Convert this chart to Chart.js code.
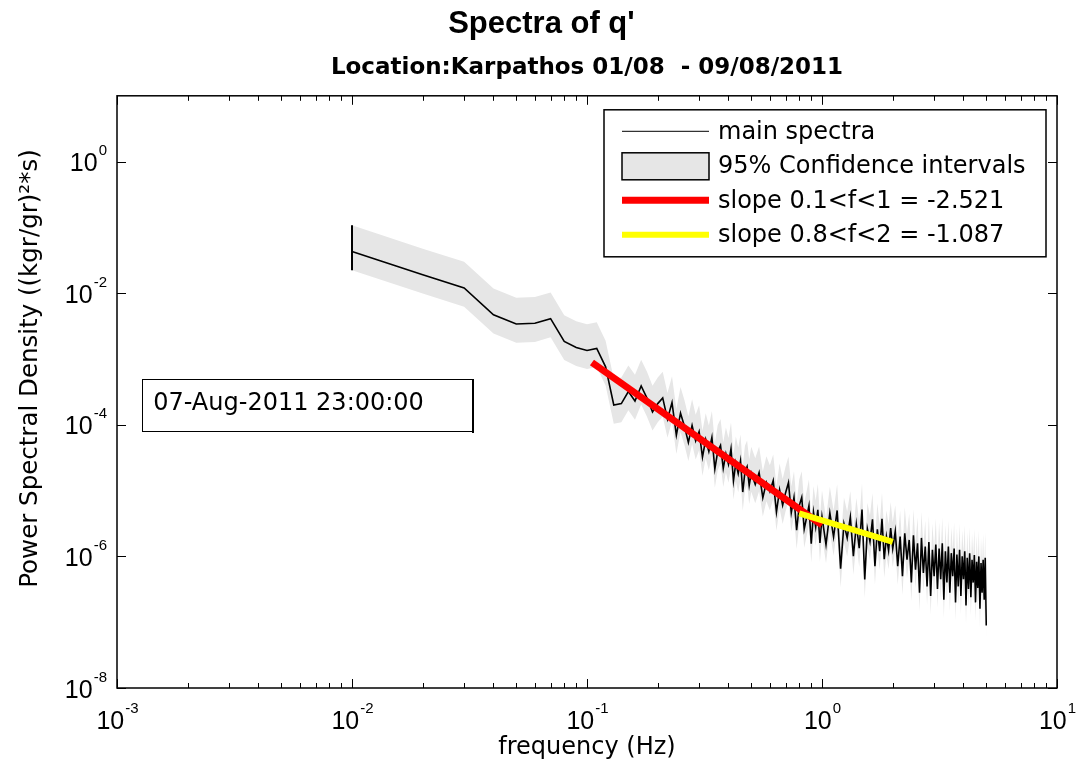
<!DOCTYPE html>
<html lang="en">
<head>
  <meta charset="UTF-8">
  <title>Spectra of q'</title>
  <script src="https://cdn.jsdelivr.net/npm/chart.js"></script>
  <style>
    body {
      margin: 0;
      padding: 0;
      background: #fff;
    }

    .chart-wrapper {
      width: 1081px;
      height: 771px;
      overflow: hidden;
    }
  </style>
</head>
<body>
  <div class="chart-wrapper"><canvas id="spectraChart"></canvas></div>

  <script>
    // Spectrum of q' (frequency in Hz, PSD in (kgr/gr)^2*s)
    const freqA = [
      0.01, 0.02, 0.03, 0.04, 0.05, 0.06, 0.07, 0.08, 0.09, 0.10,
      0.11, 0.12, 0.13, 0.14, 0.15, 0.16, 0.17, 0.18, 0.19, 0.20,
      0.21, 0.22, 0.23, 0.24, 0.25, 0.26, 0.27, 0.28, 0.29, 0.30,
      0.31, 0.32, 0.33, 0.34, 0.35, 0.36, 0.37, 0.38, 0.39, 0.40,
      0.41, 0.42, 0.43, 0.44, 0.45, 0.46, 0.47, 0.48, 0.49, 0.50
    ];
    const psdA = [
      4.3e-2, 1.9e-2, 1.2e-2, 4.7e-3, 3.4e-3, 3.5e-3, 4.1e-3, 1.85e-3, 1.5e-3, 1.35e-3,
      1.45e-3, 7.6e-4, 2.0e-4, 2.1e-4, 3.2e-4, 2.3e-4, 3.9e-4, 2.55e-4, 1.57e-4, 2.1e-4,
      2.56e-4, 1.22e-4, 2.18e-4, 6.95e-5, 1.5e-4, 9.4e-5, 5.4e-5, 9.8e-5, 5.7e-5, 7.9e-5,
      3.24e-5, 5.98e-5, 3.92e-5, 6.46e-5, 2.13e-5, 3.96e-5, 4.88e-5, 2.18e-5, 3.63e-5, 2.52e-5,
      4.32e-5, 1.41e-5, 2.65e-5, 1.81e-5, 2.84e-5, 9.5e-6, 1.93e-5, 2.31e-5, 1.2e-5, 1.85e-5
    ];

    const freqB = [
      0.52, 0.54, 0.56, 0.58, 0.60, 0.62, 0.64, 0.66, 0.68, 0.70,
      0.72, 0.74, 0.76, 0.78, 0.80, 0.82, 0.84, 0.86, 0.88, 0.90,
      0.92, 0.94, 0.96, 0.98, 1.00
    ];
    const psdB = [
      1.24e-5, 1.88e-5, 7.8e-6, 1.33e-5, 9.7e-6, 1.42e-5, 4.7e-6, 1.03e-5, 6.0e-6, 9.3e-6,
      1.32e-5, 4.6e-6, 7.9e-6, 2.5e-6, 5.9e-6, 7.9e-6, 2.6e-6, 3.9e-6, 5.9e-6, 1.56e-6,
      4.7e-6, 2.8e-6, 5.1e-6, 1.6e-6, 4.0e-6
    ];

    const freqC = [
      1.04, 1.08, 1.12, 1.16, 1.20, 1.24, 1.28, 1.32, 1.36, 1.40,
      1.44, 1.48, 1.52, 1.56, 1.60, 1.64, 1.68, 1.72, 1.76, 1.80,
      1.84, 1.88, 1.92, 1.96, 2.00
    ];
    const psdC = [
      1.51e-6, 4.58e-6, 1.97e-6, 4.99e-6, 6.5e-7, 3.13e-6, 1.91e-6, 3.95e-6, 1.01e-6, 3.08e-6,
      1.33e-6, 5.16e-6, 4.47e-7, 2.62e-6, 1.68e-6, 3.66e-6, 7.1e-7, 2.58e-6, 1.2e-6, 3.72e-6,
      9.1e-7, 2.0e-6, 1.23e-6, 2.69e-6, 1.32e-6
    ];

    const freqD = [
      2.05, 2.10, 2.15, 2.20, 2.25, 2.30, 2.35, 2.40, 2.45, 2.50,
      2.55, 2.60, 2.65, 2.70, 2.75, 2.80, 2.85, 2.90, 2.95, 3.00,
      3.05, 3.10, 3.15, 3.20, 3.25, 3.30, 3.35, 3.40, 3.45, 3.50,
      3.55, 3.60, 3.65, 3.70, 3.75, 3.80, 3.85, 3.90, 3.95, 4.00,
      4.05, 4.10, 4.15, 4.20, 4.25, 4.30, 4.35, 4.40, 4.45, 4.50,
      4.55, 4.60, 4.65, 4.70, 4.75, 4.80, 4.85, 4.90, 4.95, 5.00
    ];
    const psdD = [
      2.4e-6, 7.1e-7, 2.0e-6, 5.0e-7, 2.24e-6, 8.9e-7, 1.78e-6, 4.0e-7, 2.09e-6, 6.3e-7,
      1.58e-6, 2.8e-7, 1.91e-6, 5.6e-7, 1.41e-6, 3.5e-7, 1.66e-6, 2.5e-7, 1.26e-6, 5.0e-7,
      1.51e-6, 3.2e-7, 1.32e-6, 4.5e-7, 1.58e-6, 2.2e-7, 1.2e-6, 4.0e-7, 1.41e-6, 2.8e-7,
      1.12e-6, 5.0e-7, 1.32e-6, 2.0e-7, 1.07e-6, 3.5e-7, 1.26e-6, 2.5e-7, 1.0e-6, 4.5e-7,
      1.2e-6, 1.8e-7, 9.5e-7, 3.2e-7, 1.12e-6, 2.4e-7, 8.9e-7, 4.0e-7, 1.05e-6, 2.0e-7,
      8.3e-7, 3.3e-7, 1.0e-6, 1.6e-7, 7.9e-7, 2.8e-7, 8.9e-7, 2.2e-7, 9.5e-7, 8.9e-8
    ];

    // chi-square 95% confidence factors applied to the PSD
    const ciLowFactor = 0.52;
    const ciHighFactor = 2.5;

    // least-squares slope fits
    const fitRedFreq = [0.105, 1.0];
    const fitRedPsd = [8.85e-4, 3.0e-6];
    const fitYellowFreq = [0.8, 2.0];
    const fitYellowPsd = [4.5e-6, 1.66e-6];

    const seriesLabels = [
      'main spectra',
      '95% Confidence intervals',
      'slope 0.1<f<1 = -2.521',
      'slope 0.8<f<2 = -1.087'
    ];

    const xTickExponents = [-3, -2, -1, 0, 1];
    const yTickExponents = [-8, -6, -4, -2, 0];
    const stampText = '07-Aug-2011 23:00:00';

    const SANS = '"DejaVu Sans", sans-serif';
    const ARIAL = '"Liberation Sans", Arial, sans-serif';

    const freq = [...freqA, ...freqB, ...freqC, ...freqD];
    const psd = [...psdA, ...psdB, ...psdC, ...psdD];
    const spectrum = freq.map((f, i) => ({ x: f, y: psd[i] }));
    const ciUpper = spectrum.map(p => ({ x: p.x, y: p.y * ciHighFactor }));
    const ciLower = spectrum.map(p => ({ x: p.x, y: p.y * ciLowFactor }));
    const firstEdge = [ciUpper[0], ciLower[0]];
    const redFit = fitRedFreq.map((f, i) => ({ x: f, y: fitRedPsd[i] }));
    const yellowFit = fitYellowFreq.map((f, i) => ({ x: f, y: fitYellowPsd[i] }));

    // text box corners in data units (frequency, PSD)
    const stampBox = { f0: 1.28e-3, f1: 0.0324, p0: 5.0e-4, p1: 8.1e-5 };

    function isDecade(v) {
      const l = Math.log10(v);
      return Math.abs(l - Math.round(l)) < 1e-6;
    }

    // draws "10" with a raised exponent
    function drawPower(ctx, exp, x, baseY, align) {
      const baseFont = '25px ' + ARIAL;
      const supFont = '15px ' + ARIAL;
      ctx.font = baseFont;
      const wBase = ctx.measureText('10').width;
      ctx.font = supFont;
      const sup = String(exp);
      const wSup = ctx.measureText(sup).width;
      const total = wBase + wSup;
      const left = align === 'center' ? x - total / 2 : x - total;
      ctx.textAlign = 'left';
      ctx.textBaseline = 'alphabetic';
      ctx.fillStyle = '#000';
      ctx.font = baseFont;
      ctx.fillText('10', left, baseY);
      ctx.font = supFont;
      ctx.fillText(sup, left + wBase + 1, baseY - 16);
    }

    // box, inward ticks and power-of-ten tick labels
    const matlabAxes = {
      id: 'matlabAxes',
      afterDatasetsDraw(chart) {
        const { ctx, chartArea: a, scales: { x, y } } = chart;
        ctx.save();
        ctx.strokeStyle = '#000';
        ctx.lineWidth = 1.5;
        ctx.strokeRect(a.left, a.top, a.right - a.left, a.bottom - a.top);

        ctx.beginPath();
        x.ticks.forEach(t => {
          const px = Math.round(x.getPixelForValue(t.value)) + 0.5;
          const len = isDecade(t.value) ? 9 : 5;
          ctx.moveTo(px, a.bottom); ctx.lineTo(px, a.bottom - len);
          ctx.moveTo(px, a.top); ctx.lineTo(px, a.top + len);
        });
        y.ticks.forEach(t => {
          const py = Math.round(y.getPixelForValue(t.value)) + 0.5;
          ctx.moveTo(a.left, py); ctx.lineTo(a.left + 9, py);
          ctx.moveTo(a.right, py); ctx.lineTo(a.right - 9, py);
        });
        ctx.lineWidth = 1;
        ctx.stroke();

        xTickExponents.forEach(e => {
          drawPower(ctx, e, x.getPixelForValue(Math.pow(10, e)), a.bottom + 41, 'center');
        });
        yTickExponents.forEach(e => {
          drawPower(ctx, e, a.left - 11, y.getPixelForValue(Math.pow(10, e)) + 9.5, 'right');
        });
        ctx.restore();
      }
    };

    // date stamp box
    const dateStamp = {
      id: 'dateStamp',
      afterDatasetsDraw(chart) {
        const { ctx, scales: { x, y } } = chart;
        const l = x.getPixelForValue(stampBox.f0), r = x.getPixelForValue(stampBox.f1);
        const t = y.getPixelForValue(stampBox.p0), b = y.getPixelForValue(stampBox.p1);
        ctx.save();
        ctx.fillStyle = '#fff';
        ctx.fillRect(l, t, r - l, b - t);
        ctx.strokeStyle = '#000';
        ctx.lineWidth = 1;
        ctx.strokeRect(Math.round(l) + 0.5, Math.round(t) + 0.5, Math.round(r - l), Math.round(b - t));
        ctx.lineWidth = 2;
        ctx.beginPath();
        ctx.moveTo(Math.round(r) + 1, Math.round(t));
        ctx.lineTo(Math.round(r) + 1, Math.round(b) + 2);
        ctx.stroke();
        ctx.fillStyle = '#000';
        ctx.font = '24px ' + SANS;
        ctx.textAlign = 'left';
        ctx.textBaseline = 'middle';
        ctx.fillText(stampText, l + 11, (t + b) / 2 - 1);
        ctx.restore();
      }
    };

    // boxed legend in the upper right corner of the axes
    const boxedLegend = {
      id: 'boxedLegend',
      afterDraw(chart) {
        const { ctx, chartArea: a } = chart;
        const w = 442, h = 147;
        const left = a.right - 11 - w, top = a.top + 14;
        ctx.save();
        ctx.fillStyle = '#fff';
        ctx.fillRect(left, top, w, h);
        ctx.strokeStyle = '#000';
        ctx.lineWidth = 1.5;
        ctx.strokeRect(left, top, w, h);

        const items = chart.data.datasets.filter(ds => ds.legendRow !== undefined)
          .sort((p, q) => p.legendRow - q.legendRow);
        items.forEach((ds, i) => {
          const cy = top + 21.5 + 34.5 * i;
          const x0 = left + 18, x1 = left + 105;
          if (ds.fill) {
            ctx.fillStyle = ds.backgroundColor;
            ctx.fillRect(x0, cy - 13, x1 - x0, 27);
            ctx.strokeStyle = '#000';
            ctx.lineWidth = 1.5;
            ctx.strokeRect(x0, cy - 13, x1 - x0, 27);
          } else {
            ctx.strokeStyle = ds.borderColor;
            ctx.lineWidth = ds.legendWidth || ds.borderWidth;
            ctx.lineCap = 'butt';
            ctx.beginPath();
            ctx.moveTo(x0, cy);
            ctx.lineTo(x1, cy);
            ctx.stroke();
          }
          ctx.fillStyle = '#000';
          ctx.font = '24px ' + SANS;
          ctx.textAlign = 'left';
          ctx.textBaseline = 'middle';
          ctx.fillText(ds.label, left + 114, cy + 1);
        });
        ctx.restore();
      }
    };

    const ctx = document.getElementById('spectraChart').getContext('2d');
    new Chart(ctx, {
      type: 'line',
      data: {
        datasets: [
          {
            label: seriesLabels[0],
            data: spectrum,
            borderColor: '#000',
            borderWidth: 1.6,
            legendWidth: 1,
            pointRadius: 0,
            fill: false,
            order: 2,
            legendRow: 0
          },
          {
            label: seriesLabels[1],
            data: ciUpper,
            borderColor: 'rgba(0,0,0,0)',
            borderWidth: 0,
            backgroundColor: '#e6e6e6',
            pointRadius: 0,
            fill: '+1',
            order: 4,
            legendRow: 1
          },
          {
            label: 'ci lower',
            data: ciLower,
            borderColor: 'rgba(0,0,0,0)',
            borderWidth: 0,
            pointRadius: 0,
            fill: false,
            order: 5
          },
          {
            label: 'first bin',
            data: firstEdge,
            borderColor: '#000',
            borderWidth: 2,
            pointRadius: 0,
            fill: false,
            order: 3
          },
          {
            label: seriesLabels[2],
            data: redFit,
            borderColor: '#ff0000',
            borderWidth: 7,
            borderCapStyle: 'butt',
            pointRadius: 0,
            fill: false,
            order: 1,
            legendRow: 2
          },
          {
            label: seriesLabels[3],
            data: yellowFit,
            borderColor: '#ffff00',
            borderWidth: 6,
            borderCapStyle: 'butt',
            pointRadius: 0,
            fill: false,
            order: 0,
            legendRow: 3
          }
        ]
      },
      options: {
        responsive: true,
        maintainAspectRatio: false,
        animation: false,
        events: [],
        layout: { padding: { left: 0, right: 24, top: 0, bottom: 0 } },
        elements: { line: { tension: 0 } },
        scales: {
          x: {
            type: 'logarithmic',
            min: 1e-3,
            max: 10,
            grid: { display: false, drawTicks: false },
            border: { display: false },
            ticks: { display: false },
            afterBuildTicks: scale => {
              const ticks = [];
              xTickExponents.forEach(e => {
                for (let m = 1; m <= 9; m++) {
                  const v = m * Math.pow(10, e);
                  if (v <= 10.0001) ticks.push({ value: v });
                }
              });
              scale.ticks = ticks;
            },
            title: {
              display: true,
              text: 'frequency (Hz)',
              color: '#000',
              font: { family: SANS, size: 24, lineHeight: 1.2 },
              padding: { top: 45.6, bottom: 8.6 }
            }
          },
          y: {
            type: 'logarithmic',
            min: 1e-8,
            max: 10,
            grid: { display: false, drawTicks: false },
            border: { display: false },
            ticks: { display: false },
            afterBuildTicks: scale => {
              scale.ticks = yTickExponents.map(e => ({ value: Math.pow(10, e) }));
            },
            title: {
              display: true,
              text: '      Power Spectral Density ((kgr/gr)\u00b2*s)',
              color: '#000',
              font: { family: SANS, size: 24.5, lineHeight: 1.2 },
              padding: { top: 16.3, bottom: 71.3 }
            }
          }
        },
        plugins: {
          legend: { display: false },
          tooltip: { enabled: false },
          title: {
            display: true,
            text: "   Spectra of q'",
            color: '#000',
            font: { family: ARIAL, size: 31, weight: 'bold', lineHeight: 1.2 },
            padding: { top: 6, bottom: 0 }
          },
          subtitle: {
            display: true,
            text: 'Location:Karpathos 01/08  - 09/08/2011',
            fullSize: false,
            color: '#000',
            font: { family: SANS, size: 23, weight: 'bold', lineHeight: 1.2 },
            padding: { top: 11, bottom: 14 }
          }
        }
      },
      plugins: [matlabAxes, dateStamp, boxedLegend]
    });
  </script>
</body>
</html>
